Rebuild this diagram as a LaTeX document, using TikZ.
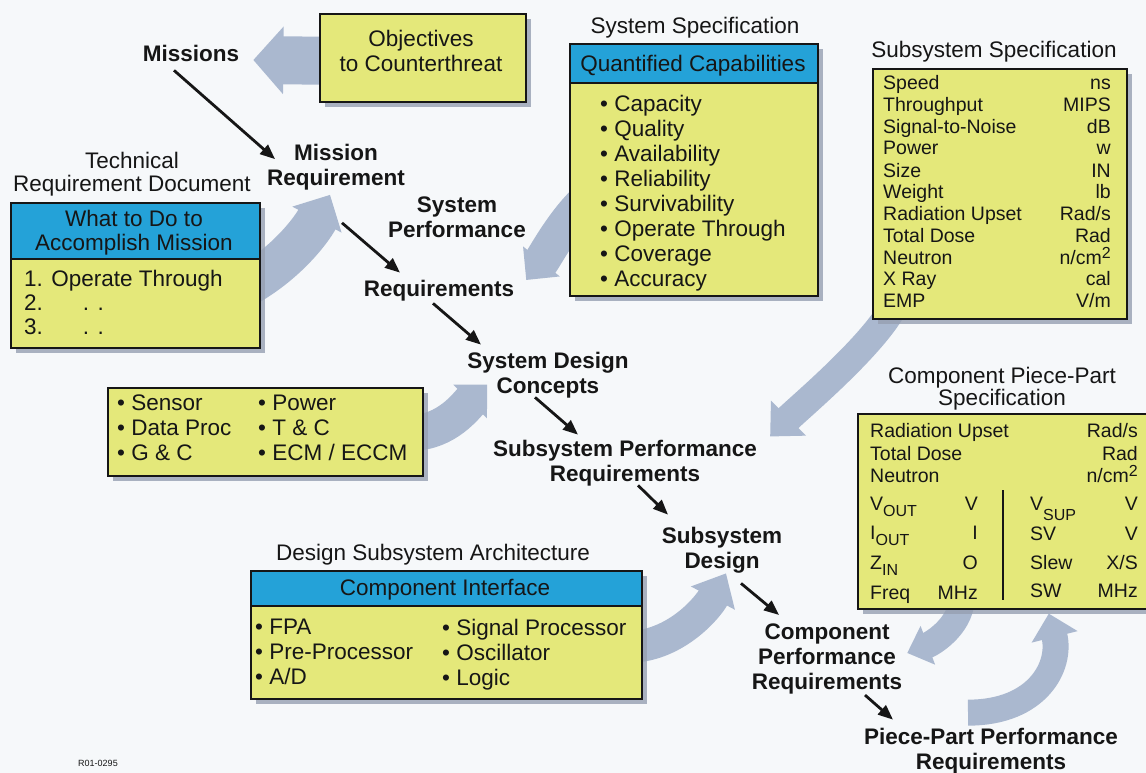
\documentclass[tikz,border=0pt]{standalone}
\usepackage{fontspec}
\setmainfont{Liberation Sans}
\usetikzlibrary{arrows.meta,calc,shadows}
\definecolor{bgcol}{RGB}{246,248,250}
\definecolor{ylw}{RGB}{228,232,122}
\definecolor{hdrblue}{RGB}{36,162,216}
\definecolor{garrcol}{RGB}{170,184,207}
\definecolor{inkcol}{RGB}{22,22,22}
\definecolor{shadcol}{RGB}{150,160,178}
\pgfdeclarelayer{bglayer}
\pgfsetlayers{bglayer,main}
\tikzset{
 lab/.style={font=\bfseries\fontsize{22.5}{25}\selectfont, text=inkcol, align=center, inner sep=0pt, text depth=0pt},
 txt/.style={font=\fontsize{22.5}{24}\selectfont, text=inkcol, align=center, inner sep=0pt, text depth=0pt},
 lst/.style={font=\fontsize{22.5}{25}\selectfont, text=inkcol, align=left, inner sep=0pt, text depth=0pt, anchor=west},
 row/.style={font=\fontsize{19.5}{21}\selectfont, text=inkcol, inner sep=0pt, text height=14pt, text depth=0pt},
 ybox/.style={draw=inkcol, line width=1.6pt, fill=ylw, anchor=north west, inner sep=0pt,
   drop shadow={shadow xshift=5pt, shadow yshift=-5pt, fill=shadcol, opacity=0.8}},
 hbox/.style={draw=inkcol, line width=1.6pt, fill=hdrblue, anchor=north west, inner sep=0pt},
 blk/.style={draw=inkcol, line width=2.8pt, -{Triangle[length=15pt,width=12pt]}},
 garr/.style={draw=garrcol, line cap=butt},
}
\newcommand{\subtx}[2]{\raisebox{#1}{\fontsize{16}{16}\selectfont #2}}
\begin{document}
\begin{tikzpicture}[x=1pt,y=-1pt]
\useasboundingbox (0,0) rectangle (1146,773);
\begin{pgfonlayer}{bglayer}
\fill[bgcol] (0,0) rectangle (1146,773);
\end{pgfonlayer}

% ---------- boxes ----------
\node[ybox, minimum width=206pt, minimum height=88pt] (obj) at (319,13) {};
\node[txt, font=\fontsize{22.5}{25}\selectfont] (objt) at (421,50.5) {Objectives\\to Counterthreat};

\node[ybox, minimum width=249pt, minimum height=145pt] (trd) at (10,202) {};
\node[hbox, minimum width=249pt, minimum height=56pt] (trdh) at (10,202) {};
\node[txt] (trdht) at (134,230) {What to Do to\\Accomplish Mission};
\node[lst, font=\fontsize{22.5}{24}\selectfont] (trdb) at (24,302) {1. Operate Through\\2.\hspace*{40pt}. .\\3.\hspace*{40pt}. .};

\node[ybox, minimum width=248pt, minimum height=252pt] (qc) at (569,43) {};
\node[hbox, minimum width=248pt, minimum height=39pt] (qch) at (569,43) {};
\node[txt] (qcht) at (693,63) {Quantified Capabilities};
\node[lst] (qci) at (600,190.5) {• Capacity\\• Quality\\• Availability\\• Reliability\\• Survivability\\• Operate Through\\• Coverage\\• Accuracy};

\node[ybox, minimum width=254pt, minimum height=250pt] (ss) at (872,68) {};
\foreach \lab/\unit/\yy [count=\i] in {Speed/ns/83, Throughput/MIPS/105, Signal-to-Noise/dB/127,
  Power/w/148, Size/IN/170, Weight/lb/191, {Radiation Upset}/{Rad/s}/213, {Total Dose}/Rad/235,
  Neutron/{n/cm\subtx{6pt}{2}}/257, {X Ray}/cal/278, EMP/{V/m}/300}{
  \node[row, anchor=west] (ssl\i) at (883,\yy) {\lab};
  \node[row, anchor=east] (ssu\i) at (1111,\yy) {\unit};
}

\node[ybox, minimum width=315pt, minimum height=88pt] (sens) at (107,387) {};
\node[lst] (sensa) at (117,428) {• Sensor\\• Data Proc\\• G \& C};
\node[lst] (sensb) at (258,428) {• Power\\• T \& C\\• ECM / ECCM};

\node[ybox, minimum width=391pt, minimum height=128pt] (dsa) at (250,570) {};
\node[hbox, minimum width=391pt, minimum height=35pt] (dsah) at (250,570) {};
\node[txt] (dsaht) at (445,587) {Component Interface};
\node[lst] (dsaa) at (255,652) {• FPA\\• Pre-Processor\\• A/D};
\node[lst] (dsab) at (442,652) {• Signal Processor\\• Oscillator\\• Logic};

\node[ybox, minimum width=300pt, minimum height=195pt] (pp) at (857,413) {};
\draw[draw=inkcol, line width=1.4pt] (1003,490) -- (1003,600);
\node[row, anchor=west] (pp1l) at (870,430) {Radiation Upset};
\node[row, anchor=east] (pp1u) at (1138,430) {Rad/s};
\node[row, anchor=west] (pp2l) at (870,453) {Total Dose};
\node[row, anchor=east] (pp2u) at (1138,453) {Rad};
\node[row, anchor=west] (pp3l) at (870,475) {Neutron};
\node[row, anchor=east] (pp3u) at (1138,475) {n/cm\subtx{6pt}{2}};
\node[row, anchor=west] (pp4l) at (870,503) {V\subtx{-6pt}{OUT}};
\node[row, anchor=east] (pp4u) at (978,503) {V};
\node[row, anchor=west] (pp5l) at (870,532) {I\subtx{-6pt}{OUT}};
\node[row, anchor=east] (pp5u) at (978,532) {I};
\node[row, anchor=west] (pp6l) at (870,562) {Z\subtx{-6pt}{IN}};
\node[row, anchor=east] (pp6u) at (978,562) {O};
\node[row, anchor=west] (pp7l) at (870,592) {Freq};
\node[row, anchor=east] (pp7u) at (978,592) {MHz};
\node[row, anchor=west] (pp8l) at (1030,503) {V\subtx{-10pt}{SUP}};
\node[row, anchor=east] (pp8u) at (1138,503) {V};
\node[row, anchor=west] (pp9l) at (1030,533) {SV};
\node[row, anchor=east] (pp9u) at (1138,533) {V};
\node[row, anchor=west] (pp10l) at (1030,562) {Slew};
\node[row, anchor=east] (pp10u) at (1138,562) {X/S};
\node[row, anchor=west] (pp11l) at (1030,590) {SW};
\node[row, anchor=east] (pp11u) at (1138,590) {MHz};

% ---------- titles ----------
\node[txt, font=\fontsize{22.5}{23}\selectfont] (trdt) at (132,171.5) {Technical\\Requirement Document};
\node[txt] (sst) at (695,25) {System Specification};
\node[txt] (ssst) at (994,49) {Subsystem Specification};
\node[txt, font=\fontsize{22.5}{22}\selectfont] (ppt) at (1002,386) {Component Piece-Part\\Specification};
\node[txt] (dsat) at (433,552) {Design Subsystem Architecture};
\node[font=\fontsize{9}{10}\selectfont, text=inkcol, inner sep=0pt] (rno) at (98,763) {R01-0295};

% ---------- flow labels ----------
\node[lab] (mis) at (191,53) {Missions};
\node[lab] (mreq) at (336,165) {Mission\\Requirement};
\node[lab] (sperf) at (457,217.5) {System\\Performance};
\node[lab] (req) at (439,288) {Requirements};
\node[lab] (sdc) at (548,372.5) {System Design\\Concepts};
\node[lab] (sspr) at (625,460.5) {Subsystem Performance\\Requirements};
\node[lab] (ssd) at (722,547.5) {Subsystem\\Design};
\node[lab] (cpr) at (827,657) {Component\\Performance\\Requirements};
\node[lab] (pppr) at (991,748.5) {Piece-Part Performance\\Requirements};

% ---------- black flow arrows ----------
\draw[blk] ($(mis.south)+(-17,9)$) -- ($(mreq.north west)+(8,15)$);
\draw[blk] ($(mreq.south)+(6,37)$) -- ($(req.north)+(-39,-7)$);
\draw[blk] ($(req.south)+(-6,7)$) -- ($(sdc.north)+(-67,-7)$);
\draw[blk] ($(sdc.south)+(-13,4)$) -- ($(sspr.north)+(-47,-5)$);
\draw[blk] ($(sspr.south)+(13,4)$) -- ($(ssd.north)+(-54,-12)$);
\draw[blk] ($(ssd.south)+(19,15)$) -- ($(cpr.north)+(-48,-9)$);
\draw[blk] ($(cpr.south)+(38,5)$) -- ($(pppr.north)+(-98,-8)$);

% ---------- wide grey arrows ----------
\begin{pgfonlayer}{bglayer}
\draw[garr, line width=48pt, -{Triangle[width=66pt,length=30pt]}]
  ($(obj.west)+(12,3)$) -- ($(mis.east)+(14,7)$);
\draw[garr, line width=42pt, -{Triangle[width=54pt,length=28pt]}]
  ($(trd.east)+(-12,9)$) .. controls ($(trd.east)+(26,-13)$) and ($(mreq.south)+(-25,45)$) .. ($(mreq.south)+(-6,9)$);
\draw[garr, line width=36pt, -{Triangle[width=46pt,length=24pt]}]
  ($(qc.west)+(14,34)$) .. controls ($(qc.west)+(-8,56)$) and ($(req.east)+(30,-30)$) .. ($(req.east)+(12,-8)$);
\draw[garr, line width=36pt, -{Triangle[width=46pt,length=24pt]}]
  ($(sens.east)+(-12,1)$) .. controls ($(sens.east)+(23,1)$) and ($(sdc.west)+(0,32)$) .. ($(sdc.west)+(20,12)$);
\draw[garr, line width=28pt, -{Triangle[width=48pt,length=26pt]}]
  ($(ss.south west)+(21,-12)$) .. controls ($(ss.south west)+(-1,28)$) and ($(sspr.east)+(41,-52)$) .. ($(sspr.east)+(13,-24)$);
\draw[garr, line width=32pt, -{Triangle[width=48pt,length=28pt]}]
  ($(dsa.east)+(-11,12)$) .. controls ($(dsa.east)+(34,10)$) and ($(ssd.south)+(-14,39)$) .. ($(ssd.south)+(4,5)$);
\draw[garr, line width=26pt, -{Triangle[width=40pt,length=22pt]}]
  ($(pp.south)+(-46,-10)$) .. controls ($(pp.south)+(-48,18)$) and ($(cpr.east)+(29,-13)$) .. ($(cpr.east)+(5,-4)$);
\draw[garr, line width=26pt, -{Triangle[width=46pt,length=24pt]}]
  ($(pppr.north)+(-23,-15)$) .. controls ($(pppr.north)+(47,-15)$) and ($(pp.south)+(54,56)$) .. ($(pp.south)+(41,4)$);
\end{pgfonlayer}
\end{tikzpicture}
\end{document}
